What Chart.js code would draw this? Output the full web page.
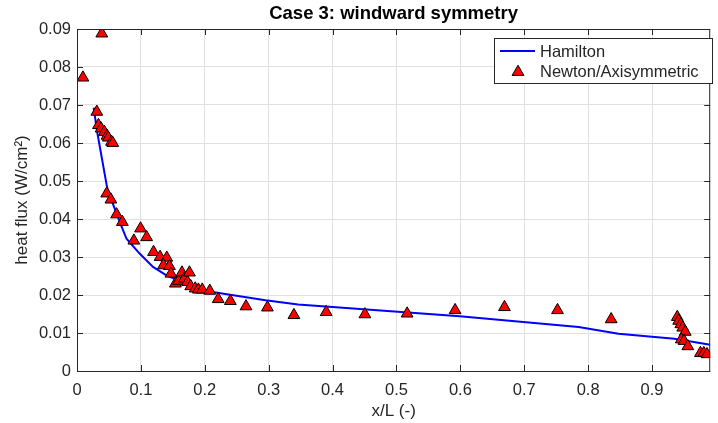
<!DOCTYPE html>
<html>
<head>
<meta charset="utf-8">
<title>Case 3: windward symmetry</title>
<script src="https://cdn.jsdelivr.net/npm/chart.js@4.4.0/dist/chart.umd.min.js"></script>
<style>
    body { margin: 0; background: #ffffff; }
    #grafico { display: block; }
</style>
</head>
<body>
<canvas id="grafico" width="718" height="423"></canvas>
<script>
// Datos
const hamiltonX = [0.026, 0.032, 0.047, 0.052, 0.070, 0.0775, 0.098, 0.119, 0.140, 0.170, 0.212, 0.295, 0.346, 0.599, 0.785, 0.8475, 0.935, 0.991];
const hamiltonY = [0.0693, 0.0625, 0.0484, 0.0458, 0.0379, 0.0348, 0.0309, 0.0274, 0.0252, 0.0230, 0.0208, 0.0186, 0.0175, 0.0144, 0.0116, 0.0098, 0.0085, 0.0069];

const newtonX = [0.0093, 0.031, 0.0336, 0.0377, 0.0388, 0.0428, 0.047, 0.049, 0.054, 0.056,
    0.0465, 0.053, 0.062, 0.071, 0.089, 0.0995, 0.109, 0.1198, 0.130, 0.1405,
    0.1353, 0.1447, 0.147, 0.154, 0.159, 0.1643, 0.168, 0.173, 0.176, 0.178,
    0.185, 0.190, 0.196, 0.2078, 0.221, 0.240, 0.2645, 0.298, 0.3395, 0.390,
    0.4506, 0.5167, 0.5917, 0.669, 0.752, 0.836, 0.9395, 0.9417, 0.945, 0.948,
    0.952, 0.9457, 0.950, 0.956, 0.9757, 0.981, 0.986];
const newtonY = [0.0772, 0.0682, 0.0647, 0.0638, 0.0888, 0.0629, 0.0619, 0.0614, 0.0603, 0.0600,
    0.0467, 0.0451, 0.0412, 0.0392, 0.0343, 0.0375, 0.0352, 0.0313, 0.0300, 0.0298,
    0.0278, 0.0276, 0.0256, 0.0230, 0.0237, 0.0259, 0.0243, 0.0234, 0.0259, 0.0223,
    0.0217, 0.0214, 0.0214, 0.0211, 0.0189, 0.0184, 0.0170, 0.0167, 0.0147, 0.0155,
    0.0149, 0.0151, 0.0160, 0.0168, 0.0160, 0.0136, 0.0142, 0.0132, 0.0123, 0.0114,
    0.0103, 0.0083, 0.0079, 0.0065, 0.0047, 0.0047, 0.0044];

const xTicks = [0, 0.1, 0.2, 0.3, 0.4, 0.5, 0.6, 0.7, 0.8, 0.9];
const yTicks = [0, 0.01, 0.02, 0.03, 0.04, 0.05, 0.06, 0.07, 0.08, 0.09];
const xTickLabels = ['0', '0.1', '0.2', '0.3', '0.4', '0.5', '0.6', '0.7', '0.8', '0.9'];
const yTickLabels = ['0', '0.01', '0.02', '0.03', '0.04', '0.05', '0.06', '0.07', '0.08', '0.09'];

const titulo = 'Case 3: windward symmetry';
const nombresSeries = ['Hamilton', 'Newton/Axisymmetric'];

const fuente = '"Liberation Sans", Arial, Helvetica, sans-serif';
const colorEjes = '#262626';

// Plugin para dibujar caja, ticks hacia adentro, titulo y leyenda (estilo MATLAB)
const estiloMatlab = {
    id: 'estiloMatlab',
    afterDraw(chart) {
        const ctx = chart.ctx;
        const area = chart.chartArea;
        const sx = chart.scales.x;
        const sy = chart.scales.y;
        ctx.save();
        // caja
        ctx.strokeStyle = colorEjes;
        ctx.lineWidth = 1;
        ctx.strokeRect(area.left + 0.5, area.top + 0.5, area.right - area.left - 1, area.bottom - area.top);
        // ticks hacia adentro
        const largo = 6;
        ctx.beginPath();
        xTicks.forEach(v => {
            const px = Math.round(sx.getPixelForValue(v)) + 0.5;
            ctx.moveTo(px, area.bottom); ctx.lineTo(px, area.bottom - largo);
            ctx.moveTo(px, area.top); ctx.lineTo(px, area.top + largo);
        });
        yTicks.forEach(v => {
            const py = Math.round(sy.getPixelForValue(v)) + 0.5;
            ctx.moveTo(area.left, py); ctx.lineTo(area.left + largo, py);
            ctx.moveTo(area.right, py); ctx.lineTo(area.right - largo, py);
        });
        ctx.stroke();

        // titulo
        ctx.fillStyle = '#000000';
        ctx.font = 'bold 18.5px ' + fuente;
        ctx.textAlign = 'center';
        ctx.textBaseline = 'alphabetic';
        ctx.fillText(titulo, (area.left + area.right) / 2, 19);

        // leyenda
        const lx = 494, ly = 38, lw = 218, lh = 45;
        ctx.fillStyle = '#ffffff';
        ctx.fillRect(lx, ly, lw, lh);
        ctx.strokeStyle = colorEjes;
        ctx.strokeRect(lx + 0.5, ly + 0.5, lw, lh);
        ctx.strokeStyle = '#0000ff';
        ctx.lineWidth = 2;
        ctx.beginPath();
        ctx.moveTo(500, 51); ctx.lineTo(535, 51);
        ctx.stroke();
        ctx.fillStyle = '#ff0000';
        ctx.strokeStyle = '#000000';
        ctx.lineWidth = 1;
        Chart.helpers.drawPoint(ctx, { pointStyle: 'triangle', radius: 6.8, rotation: 0, borderWidth: 1 }, 518, 72);
        ctx.fillStyle = colorEjes;
        ctx.font = '16.5px ' + fuente;
        ctx.textAlign = 'left';
        ctx.fillText(nombresSeries[0], 540, 57);
        ctx.fillText(nombresSeries[1], 540, 77);
        ctx.restore();
    }
};

const puntosHamilton = hamiltonX.map((x, i) => ({ x: x, y: hamiltonY[i] }));
const puntosNewton = newtonX.map((x, i) => ({ x: x, y: newtonY[i] }));

const grafico = new Chart(document.getElementById('grafico').getContext('2d'), {
    type: 'scatter',
    data: {
        datasets: [
            {
                label: nombresSeries[1],
                data: puntosNewton,
                pointStyle: 'triangle',
                pointRadius: 6.8,
                pointHoverRadius: 6.8,
                backgroundColor: '#ff0000',
                borderColor: '#000000',
                borderWidth: 1,
                order: 0
            },
            {
                label: nombresSeries[0],
                data: puntosHamilton,
                showLine: true,
                pointRadius: 0,
                borderColor: '#0000ff',
                backgroundColor: '#0000ff',
                borderWidth: 2,
                tension: 0,
                order: 1
            }
        ]
    },
    options: {
        responsive: false,
        animation: false,
        layout: { padding: { top: 29, right: 2, left: 0, bottom: 0 } },
        plugins: {
            legend: { display: false },
            title: { display: false },
            tooltip: { enabled: false }
        },
        scales: {
            x: {
                type: 'linear',
                min: 0,
                max: 0.991,
                afterBuildTicks: s => { s.ticks = xTicks.map(v => ({ value: v })); },
                afterFit: s => { s.height = 52; },
                border: { display: false },
                grid: { color: '#e0e0e0', drawTicks: false, lineWidth: 1 },
                ticks: {
                    padding: 10,
                    color: colorEjes,
                    font: { family: fuente, size: 16.5 },
                    maxRotation: 0,
                    callback: (v, i) => xTickLabels[xTicks.indexOf(v)]
                },
                title: {
                    display: true,
                    text: 'x/L (-)',
                    color: colorEjes,
                    font: { family: fuente, size: 17 },
                    padding: { top: 0, bottom: 1 }
                }
            },
            y: {
                type: 'linear',
                min: 0,
                max: 0.09,
                afterBuildTicks: s => { s.ticks = yTicks.map(v => ({ value: v })); },
                afterFit: s => { s.width = 77; },
                border: { display: false },
                grid: { color: '#e0e0e0', drawTicks: false, lineWidth: 1 },
                ticks: {
                    padding: 6,
                    color: colorEjes,
                    font: { family: fuente, size: 16.5 },
                    callback: (v, i) => yTickLabels[yTicks.indexOf(v)]
                },
                title: {
                    display: true,
                    text: 'heat flux (W/cm²)',
                    color: colorEjes,
                    font: { family: fuente, size: 17 },
                    padding: { top: 12, bottom: 0 }
                }
            }
        }
    },
    plugins: [estiloMatlab]
});
</script>
</body>
</html>
